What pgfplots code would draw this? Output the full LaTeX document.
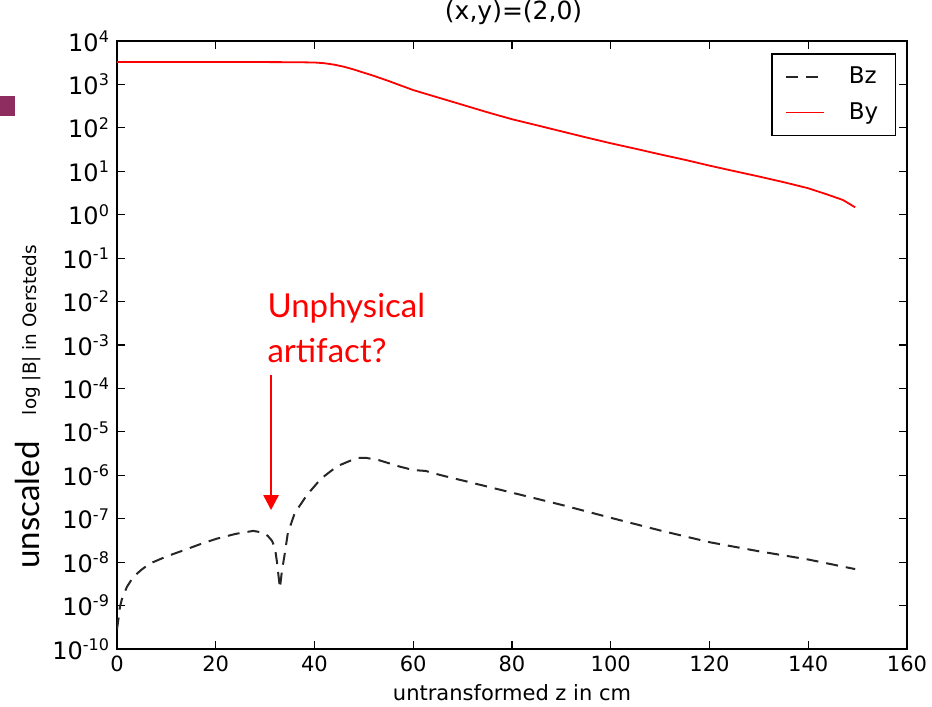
\documentclass[border=0pt]{standalone}
\usepackage{fontspec}
\setmainfont{DejaVu Sans}
\newfontfamily\lato{Lato}
\usepackage{pgfplots}
\pgfplotsset{compat=1.18}
\usetikzlibrary{arrows.meta}
\definecolor{slidepurple}{RGB}{142,45,96}

\begin{document}
\begin{tikzpicture}
\path[use as bounding box] (0,0) rectangle (466pt,353.5pt);
\fill[slidepurple] (0,295.5pt) rectangle (7.5pt,305.5pt);
\node[rotate=90, anchor=base, inner sep=0pt, font=\lato\fontsize{16.5}{19}\selectfont] at (20pt,101pt) {unscaled};
\begin{axis}[
  at={(58.5pt,29pt)}, anchor=south west,
  width=395pt, height=304pt, scale only axis,
  xmin=0, xmax=160, ymode=log, ymin=1e-10, ymax=1e4,
  xtick={0,20,...,160},
  ytick={1e-10,1e-9,1e-8,1e-7,1e-6,1e-5,1e-4,1e-3,1e-2,1e-1,1,1e1,1e2,1e3,1e4},
  yticklabels={10\textsuperscript{-10},10\textsuperscript{-9},10\textsuperscript{-8},10\textsuperscript{-7},10\textsuperscript{-6},10\textsuperscript{-5},10\textsuperscript{-4},10\textsuperscript{-3},10\textsuperscript{-2},10\textsuperscript{-1},10\textsuperscript{0},10\textsuperscript{1},10\textsuperscript{2},10\textsuperscript{3},10\textsuperscript{4}},
  yminorticks=false,
  /pgf/number format/assume math mode=true,
  tick align=inside,
  major tick length=4pt,
  every tick/.style={black, line width=0.6pt},
  axis line style={black, line width=0.75pt},
  xticklabel style={font=\fontsize{10.5}{12}\selectfont},
  yticklabel style={font=\fontsize{12}{14}\selectfont},
  title={(x,y)=(2,0)},
  title style={at={(axis description cs:0.502,1.0153)}, anchor=base, font=\fontsize{12.5}{14}\selectfont, inner sep=0pt},
  xlabel={untransformed z in cm},
  every axis x label/.style={at={(axis description cs:0.5,-0.0839)}, anchor=base, font=\fontsize{10.5}{12}\selectfont, inner sep=0pt},
  ylabel={log |B| in Oersteds},
  every axis y label/.style={at={(axis description cs:-0.1013,0.5247)}, rotate=90, anchor=base, font=\fontsize{9.2}{11}\selectfont, inner sep=0pt},
  legend style={at={(rel axis cs:1,1)}, anchor=north east, xshift=-5.5pt, yshift=-6pt,
    draw=black, line width=0.75pt, font=\fontsize{11.5}{13}\selectfont,
    inner xsep=6.5pt, inner ysep=4.5pt, row sep=4pt, column sep=10pt},
  legend cell align=left,
  legend image code/.code={\draw[#1] (0pt,0pt) -- (19pt,0pt);},
]
\addplot[draw=black!85, line width=1pt, dash pattern=on 6pt off 4pt] table {
x y
0 2.82e-10
0.3 5.01e-10
0.6 9.33e-10
1 1.41e-9
2 2.69e-9
3.3 4.57e-9
5 6.76e-9
6.7 9.33e-9
10 1.35e-8
13.4 1.86e-8
17 2.63e-8
20.2 3.47e-8
24 4.47e-8
27.6 5.25e-8
29.5 4.79e-8
30.5 4.07e-8
31.4 3.09e-8
32 2.09e-8
32.4 1.0e-8
32.7 5.01e-9
33.0 2.51e-9
33.2 3.98e-9
33.4 6.31e-9
33.9 1.38e-8
34.6 4.68e-8
36.0 1.35e-7
38.5 3.55e-7
41.3 8.32e-7
44.6 1.62e-6
48.6 2.51e-6
50.5 2.51e-6
53 2.24e-6
57.3 1.58e-6
60 1.32e-6
62.5 1.26e-6
65.4 1.02e-6
70 7.59e-7
80 3.98e-7
90 2.09e-7
100 1.05e-7
110 5.37e-8
120 2.88e-8
130 1.78e-8
140 1.15e-8
149.5 6.92e-9
};
\addlegendentry{Bz}
\addplot[draw=red, line width=0.9pt] table {
x y
0 3280
10 3280
20 3280
30 3270
36 3250
40 3200
42 3080
44 2850
46 2550
48 2200
50 1860
52 1580
55 1200
60 741
65 501
70 339
75 229
80 158
85 115
90 83.2
95 60.3
100 44.2
105 33.1
110 24.5
115 18.4
120 13.5
125 10.1
130 7.59
135 5.62
140 4.07
144 2.88
147 2.19
149.5 1.48
};
\addlegendentry{By}
\node[anchor=base west, inner sep=0pt, align=left, text=red, font=\lato\fontsize{16.5}{22.5}\selectfont] at (axis cs:30.4,3.86e-4) {Unphysical\\artifact?};
\draw[red, line width=1.25pt, -{Triangle[width=7.5pt,length=7.5pt]}] (axis cs:31.2,2.04e-4) -- (axis cs:31.2,1.58e-7);
\end{axis}
\end{tikzpicture}
\end{document}
